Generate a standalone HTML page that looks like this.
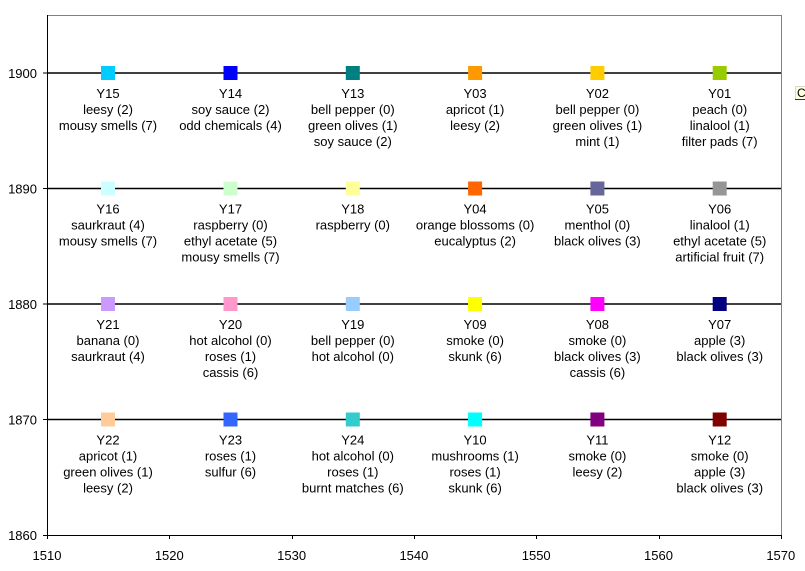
<!DOCTYPE html>
<html><head><meta charset="utf-8"><style>
html,body{margin:0;padding:0;background:#fff;}
svg{display:block;}
text{font-family:"Liberation Sans",Arial,sans-serif;font-size:13px;fill:#000;}
</style></head><body>
<svg width="805" height="571" viewBox="0 0 805 571" xmlns="http://www.w3.org/2000/svg">
<rect x="0" y="0" width="805" height="571" fill="#fff"/>
<!-- plot border -->
<line x1="47" y1="15.5" x2="781.5" y2="15.5" stroke="#808080" stroke-width="1"/>
<line x1="781.5" y1="15" x2="781.5" y2="535" stroke="#808080" stroke-width="1"/>
<!-- gridlines -->
<g stroke="#000" stroke-width="1.5">
<line x1="47" y1="73" x2="781" y2="73"/>
<line x1="47" y1="188.5" x2="781" y2="188.5"/>
<line x1="47" y1="304" x2="781" y2="304"/>
<line x1="47" y1="419.5" x2="781" y2="419.5"/>
</g>
<!-- axes -->
<line x1="47.5" y1="15" x2="47.5" y2="535.5" stroke="#000" stroke-width="1"/>
<line x1="47" y1="535.5" x2="782" y2="535.5" stroke="#000" stroke-width="1"/>
<!-- y ticks -->
<g stroke="#000" stroke-width="1">
<line x1="43" y1="73" x2="47" y2="73"/>
<line x1="43" y1="188.5" x2="47" y2="188.5"/>
<line x1="43" y1="304" x2="47" y2="304"/>
<line x1="43" y1="419.5" x2="47" y2="419.5"/>
<line x1="43" y1="535.5" x2="47" y2="535.5"/>
</g>
<!-- x ticks -->
<g stroke="#000" stroke-width="1">
<line x1="47.5" y1="535" x2="47.5" y2="539"/>
<line x1="169.5" y1="535" x2="169.5" y2="539"/>
<line x1="292.5" y1="535" x2="292.5" y2="539"/>
<line x1="414.5" y1="535" x2="414.5" y2="539"/>
<line x1="536.5" y1="535" x2="536.5" y2="539"/>
<line x1="659.5" y1="535" x2="659.5" y2="539"/>
<line x1="781.5" y1="535" x2="781.5" y2="539"/>
</g>
<!-- y labels -->
<g text-anchor="end">
<text x="37" y="78">1900</text>
<text x="37" y="193.5">1890</text>
<text x="37" y="309">1880</text>
<text x="37" y="424.5">1870</text>
<text x="37" y="540">1860</text>
</g>
<!-- x labels -->
<g text-anchor="middle">
<text x="47" y="560">1510</text>
<text x="169.3" y="560">1520</text>
<text x="291.6" y="560">1530</text>
<text x="413.9" y="560">1540</text>
<text x="536.2" y="560">1550</text>
<text x="658.5" y="560">1560</text>
<text x="780.8" y="560">1570</text>
</g>
<!-- markers -->
<g>
<rect x="101" y="66" width="14" height="14" fill="#00CCFF"/>
<rect x="223.5" y="66" width="14" height="14" fill="#0000FF"/>
<rect x="345.8" y="66" width="14" height="14" fill="#008080"/>
<rect x="468.1" y="66" width="14" height="14" fill="#FF9900"/>
<rect x="590.4" y="66" width="14" height="14" fill="#FFCC00"/>
<rect x="712.7" y="66" width="14" height="14" fill="#99CC00"/>

<rect x="101" y="181.5" width="14" height="14" fill="#CCFFFF"/>
<rect x="223.5" y="181.5" width="14" height="14" fill="#CCFFCC"/>
<rect x="345.8" y="181.5" width="14" height="14" fill="#FFFF99"/>
<rect x="468.1" y="181.5" width="14" height="14" fill="#FF6600"/>
<rect x="590.4" y="181.5" width="14" height="14" fill="#666699"/>
<rect x="712.7" y="181.5" width="14" height="14" fill="#969696"/>

<rect x="101" y="297" width="14" height="14" fill="#CC99FF"/>
<rect x="223.5" y="297" width="14" height="14" fill="#FF99CC"/>
<rect x="345.8" y="297" width="14" height="14" fill="#99CCFF"/>
<rect x="468.1" y="297" width="14" height="14" fill="#FFFF00"/>
<rect x="590.4" y="297" width="14" height="14" fill="#FF00FF"/>
<rect x="712.7" y="297" width="14" height="14" fill="#000080"/>

<rect x="101" y="412.5" width="14" height="14" fill="#FFCC99"/>
<rect x="223.5" y="412.5" width="14" height="14" fill="#3366FF"/>
<rect x="345.8" y="412.5" width="14" height="14" fill="#33CCCC"/>
<rect x="468.1" y="412.5" width="14" height="14" fill="#00FFFF"/>
<rect x="590.4" y="412.5" width="14" height="14" fill="#800080"/>
<rect x="712.7" y="412.5" width="14" height="14" fill="#800000"/>
</g>
<!-- data labels -->
<g text-anchor="middle">
<!-- row 1900 -->
<text x="108" y="98">Y15</text><text x="108" y="114">leesy (2)</text><text x="108" y="130">mousy smells (7)</text>
<text x="230.5" y="98">Y14</text><text x="230.5" y="114">soy sauce (2)</text><text x="230.5" y="130">odd chemicals (4)</text>
<text x="352.8" y="98">Y13</text><text x="352.8" y="114">bell pepper (0)</text><text x="352.8" y="130">green olives (1)</text><text x="352.8" y="146">soy sauce (2)</text>
<text x="475.1" y="98">Y03</text><text x="475.1" y="114">apricot (1)</text><text x="475.1" y="130">leesy (2)</text>
<text x="597.4" y="98">Y02</text><text x="597.4" y="114">bell pepper (0)</text><text x="597.4" y="130">green olives (1)</text><text x="597.4" y="146">mint (1)</text>
<text x="719.7" y="98">Y01</text><text x="719.7" y="114">peach (0)</text><text x="719.7" y="130">linalool (1)</text><text x="719.7" y="146">filter pads (7)</text>
<!-- row 1890 -->
<text x="108" y="213.5">Y16</text><text x="108" y="229.5">saurkraut (4)</text><text x="108" y="245.5">mousy smells (7)</text>
<text x="230.5" y="213.5">Y17</text><text x="230.5" y="229.5">raspberry (0)</text><text x="230.5" y="245.5">ethyl acetate (5)</text><text x="230.5" y="261.5">mousy smells (7)</text>
<text x="352.8" y="213.5">Y18</text><text x="352.8" y="229.5">raspberry (0)</text>
<text x="475.1" y="213.5">Y04</text><text x="475.1" y="229.5">orange blossoms (0)</text><text x="475.1" y="245.5">eucalyptus (2)</text>
<text x="597.4" y="213.5">Y05</text><text x="597.4" y="229.5">menthol (0)</text><text x="597.4" y="245.5">black olives (3)</text>
<text x="719.7" y="213.5">Y06</text><text x="719.7" y="229.5">linalool (1)</text><text x="719.7" y="245.5">ethyl acetate (5)</text><text x="719.7" y="261.5">artificial fruit (7)</text>
<!-- row 1880 -->
<text x="108" y="329">Y21</text><text x="108" y="345">banana (0)</text><text x="108" y="361">saurkraut (4)</text>
<text x="230.5" y="329">Y20</text><text x="230.5" y="345">hot alcohol (0)</text><text x="230.5" y="361">roses (1)</text><text x="230.5" y="377">cassis (6)</text>
<text x="352.8" y="329">Y19</text><text x="352.8" y="345">bell pepper (0)</text><text x="352.8" y="361">hot alcohol (0)</text>
<text x="475.1" y="329">Y09</text><text x="475.1" y="345">smoke (0)</text><text x="475.1" y="361">skunk (6)</text>
<text x="597.4" y="329">Y08</text><text x="597.4" y="345">smoke (0)</text><text x="597.4" y="361">black olives (3)</text><text x="597.4" y="377">cassis (6)</text>
<text x="719.7" y="329">Y07</text><text x="719.7" y="345">apple (3)</text><text x="719.7" y="361">black olives (3)</text>
<!-- row 1870 -->
<text x="108" y="444.5">Y22</text><text x="108" y="460.5">apricot (1)</text><text x="108" y="476.5">green olives (1)</text><text x="108" y="492.5">leesy (2)</text>
<text x="230.5" y="444.5">Y23</text><text x="230.5" y="460.5">roses (1)</text><text x="230.5" y="476.5">sulfur (6)</text>
<text x="352.8" y="444.5">Y24</text><text x="352.8" y="460.5">hot alcohol (0)</text><text x="352.8" y="476.5">roses (1)</text><text x="352.8" y="492.5">burnt matches (6)</text>
<text x="475.1" y="444.5">Y10</text><text x="475.1" y="460.5">mushrooms (1)</text><text x="475.1" y="476.5">roses (1)</text><text x="475.1" y="492.5">skunk (6)</text>
<text x="597.4" y="444.5">Y11</text><text x="597.4" y="460.5">smoke (0)</text><text x="597.4" y="476.5">leesy (2)</text>
<text x="719.7" y="444.5">Y12</text><text x="719.7" y="460.5">smoke (0)</text><text x="719.7" y="476.5">apple (3)</text><text x="719.7" y="492.5">black olives (3)</text>
</g>
<!-- partial tooltip box at right edge -->
<rect x="795.5" y="86.5" width="12" height="13" fill="#FFFFE1" stroke="#d8d8c8" stroke-width="1"/>
<line x1="795" y1="99.5" x2="805" y2="99.5" stroke="#333" stroke-width="1"/>
<text x="797" y="97" style="font-size:12px">C</text>
</svg>
</body></html>
